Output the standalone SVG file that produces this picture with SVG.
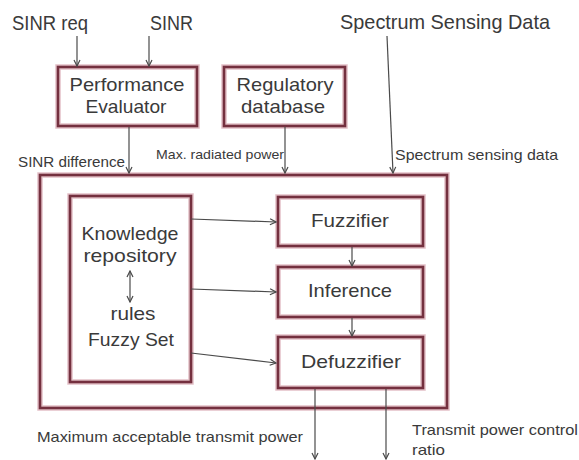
<svg xmlns="http://www.w3.org/2000/svg" width="579" height="460" viewBox="0 0 579 460">
<style>
  text { font-family: "Liberation Sans", "Open Sans", sans-serif; fill: #3a3a3a; }
  .big { font-size: 21px; }
  .box { font-size: 19px; }
  .lbl { font-size: 14.5px; }
  .halo { fill: #ffffff; stroke: #e3c0c7; stroke-width: 5.5; }
  .edge { fill: none; stroke: #74303f; stroke-width: 2.6; }
  .conn { fill: none; stroke: #4a4a4a; stroke-width: 1.2; }
</style>
<defs>
  <marker id="ah" markerWidth="8" markerHeight="8" refX="7" refY="4" orient="auto" markerUnits="userSpaceOnUse">
    <path d="M1,1 L7,4 L1,7" fill="none" stroke="#4a4a4a" stroke-width="1.2"/>
  </marker>
  <marker id="ahs" markerWidth="8" markerHeight="8" refX="1" refY="4" orient="auto" markerUnits="userSpaceOnUse">
    <path d="M7,1 L1,4 L7,7" fill="none" stroke="#4a4a4a" stroke-width="1.2"/>
  </marker>
</defs>
<rect width="579" height="460" fill="#ffffff"/>

<g id="outer">
  <rect class="halo" x="40" y="175" width="407" height="233"/>
  <rect class="edge" x="40" y="175" width="407" height="233"/>
</g>

<g id="perf">
  <rect class="halo" x="58" y="67" width="139" height="59"/>
  <rect class="edge" x="58" y="67" width="139" height="59"/>
  <text class="box" x="127" y="91" text-anchor="middle" textLength="115" lengthAdjust="spacingAndGlyphs">Performance</text>
  <text class="box" x="126" y="113" text-anchor="middle" textLength="81" lengthAdjust="spacingAndGlyphs">Evaluator</text>
</g>

<g id="regdb">
  <rect class="halo" x="224" y="67" width="121" height="59"/>
  <rect class="edge" x="224" y="67" width="121" height="59"/>
  <text class="box" x="285" y="91" text-anchor="middle" textLength="97" lengthAdjust="spacingAndGlyphs">Regulatory</text>
  <text class="box" x="283" y="113" text-anchor="middle" textLength="84" lengthAdjust="spacingAndGlyphs">database</text>
</g>

<g id="knowledge">
  <rect class="halo" x="70" y="196" width="121" height="186"/>
  <rect class="edge" x="70" y="196" width="121" height="186"/>
  <text class="box" x="130" y="240" text-anchor="middle" textLength="97" lengthAdjust="spacingAndGlyphs">Knowledge</text>
  <text class="box" x="130" y="262" text-anchor="middle" textLength="93" lengthAdjust="spacingAndGlyphs">repository</text>
  <text class="box" x="133" y="320" text-anchor="middle" textLength="45" lengthAdjust="spacingAndGlyphs">rules</text>
  <text class="box" x="131" y="346" text-anchor="middle" textLength="86" lengthAdjust="spacingAndGlyphs">Fuzzy Set</text>
</g>

<g id="fuzzifier">
  <rect class="halo" x="278" y="197" width="145" height="49"/>
  <rect class="edge" x="278" y="197" width="145" height="49"/>
  <text class="box" x="350" y="227" text-anchor="middle" textLength="78" lengthAdjust="spacingAndGlyphs">Fuzzifier</text>
</g>

<g id="inference">
  <rect class="halo" x="278" y="267" width="145" height="50"/>
  <rect class="edge" x="278" y="267" width="145" height="50"/>
  <text class="box" x="350" y="297" text-anchor="middle" textLength="84" lengthAdjust="spacingAndGlyphs">Inference</text>
</g>

<g id="defuzzifier">
  <rect class="halo" x="278" y="337" width="145" height="51"/>
  <rect class="edge" x="278" y="337" width="145" height="51"/>
  <text class="box" x="351" y="368" text-anchor="middle" textLength="100" lengthAdjust="spacingAndGlyphs">Defuzzifier</text>
</g>

<g id="labels">
  <text class="big" x="12" y="30" textLength="76" lengthAdjust="spacingAndGlyphs">SINR req</text>
  <text class="big" x="150" y="30" textLength="43" lengthAdjust="spacingAndGlyphs">SINR</text>
  <text class="big" x="340" y="29" textLength="210" lengthAdjust="spacingAndGlyphs">Spectrum Sensing Data</text>
  <text class="lbl" x="18" y="167" textLength="107" lengthAdjust="spacingAndGlyphs">SINR difference</text>
  <text class="lbl" x="156" y="159" style="font-size:13px" textLength="128" lengthAdjust="spacingAndGlyphs">Max. radiated power</text>
  <text class="lbl" x="395" y="160" textLength="163" lengthAdjust="spacingAndGlyphs">Spectrum sensing data</text>
  <text class="lbl" x="37" y="442" style="font-size:15px" textLength="266" lengthAdjust="spacingAndGlyphs">Maximum acceptable transmit power</text>
  <text class="lbl" x="412" y="435" style="font-size:15px" textLength="166" lengthAdjust="spacingAndGlyphs">Transmit power control</text>
  <text class="lbl" x="412" y="455" style="font-size:15px" textLength="33" lengthAdjust="spacingAndGlyphs">ratio</text>
</g>

<g id="connectors">
  <line class="conn" x1="77" y1="36" x2="77" y2="66" marker-end="url(#ah)"/>
  <line class="conn" x1="149" y1="36" x2="149" y2="66" marker-end="url(#ah)"/>
  <line class="conn" x1="387" y1="36" x2="393" y2="173" marker-end="url(#ah)"/>
  <line class="conn" x1="129" y1="127" x2="129" y2="173" marker-end="url(#ah)"/>
  <line class="conn" x1="285" y1="127" x2="285" y2="173" marker-end="url(#ah)"/>
  <line class="conn" x1="191" y1="219" x2="276" y2="222" marker-end="url(#ah)"/>
  <line class="conn" x1="191" y1="289" x2="276" y2="292" marker-end="url(#ah)"/>
  <line class="conn" x1="191" y1="353" x2="276" y2="363" marker-end="url(#ah)"/>
  <line class="conn" x1="352" y1="247" x2="352" y2="266" marker-end="url(#ah)"/>
  <line class="conn" x1="352" y1="318" x2="352" y2="336" marker-end="url(#ah)"/>
  <line class="conn" x1="130" y1="271" x2="130" y2="302" marker-start="url(#ahs)" marker-end="url(#ah)"/>
  <line class="conn" x1="315" y1="389" x2="315" y2="459" marker-end="url(#ah)"/>
  <line class="conn" x1="386" y1="389" x2="386" y2="459" marker-end="url(#ah)"/>
</g>
</svg>
